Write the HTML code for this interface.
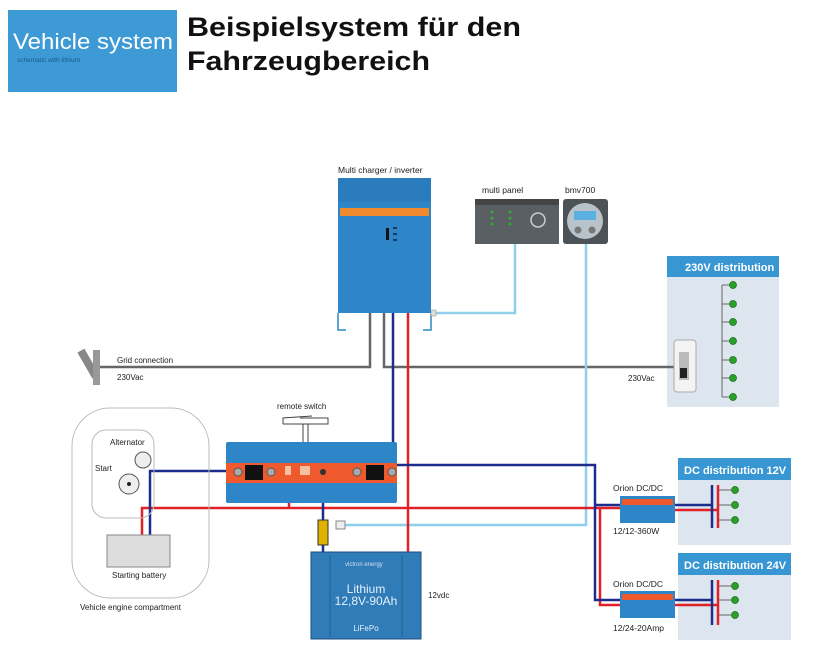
<!DOCTYPE html>
<html><head><meta charset="utf-8"><style>
body{margin:0;background:#fff;}
svg{display:block;font-family:"Liberation Sans",sans-serif;}
</style></head><body>
<svg width="813" height="664" viewBox="0 0 813 664" xmlns="http://www.w3.org/2000/svg">
<rect width="813" height="664" fill="#fff"/>
<!-- header -->
<rect x="8" y="10" width="169" height="82" fill="#3d9ad5"/>
<text x="13" y="49" font-size="22" fill="#fff" textLength="160" lengthAdjust="spacingAndGlyphs">Vehicle system</text>
<text x="17" y="62" font-size="6.5" fill="#1d5b8a">schematic with lithium</text>
<text x="187" y="36" font-size="27" font-weight="bold" fill="#111" textLength="334" lengthAdjust="spacingAndGlyphs">Beispielsystem für den</text>
<text x="187" y="70" font-size="27" font-weight="bold" fill="#111" textLength="243" lengthAdjust="spacingAndGlyphs">Fahrzeugbereich</text>

<!-- panel backgrounds -->
<rect x="667" y="256" width="112" height="151" fill="#dde6ee"/>
<rect x="667" y="256" width="112" height="21" fill="#3896d3"/>
<text x="685" y="271" font-size="11" font-weight="bold" fill="#fff">230V distribution</text>
<rect x="678" y="458" width="113" height="87" fill="#dde6ee"/>
<rect x="678" y="458" width="113" height="22" fill="#3896d3"/>
<text x="684" y="474" font-size="11" font-weight="bold" fill="#fff">DC distribution 12V</text>
<rect x="678" y="553" width="113" height="87" fill="#dde6ee"/>
<rect x="678" y="553" width="113" height="22" fill="#3896d3"/>
<text x="684" y="569" font-size="11" font-weight="bold" fill="#fff">DC distribution 24V</text>

<!-- wires gray -->
<g fill="none" stroke="#666" stroke-width="2.5">
<polyline points="100,367 370,367 370,313"/>
<polyline points="384,313 384,367 680,367"/>
</g>
<!-- light blue -->
<g fill="none" stroke="#8fd0ee" stroke-width="2.5">
<polyline points="436,313 515,313 515,244"/>
<polyline points="586,244 586,525 345,525"/>
</g>
<!-- red -->
<g fill="none" stroke="#e02128" stroke-width="2.5">
<polyline points="408,313 408,552"/>
<polyline points="142,535 142,508 620,508"/>
<polyline points="600,508 600,605 620,605"/>
<polyline points="675,510 718,510"/>
<polyline points="675,605 718,605"/>
<line x1="718" y1="485" x2="718" y2="528"/>
<line x1="718" y1="580" x2="718" y2="625"/>
<line x1="289" y1="484" x2="289" y2="508"/>
</g>
<!-- blue -->
<g fill="none" stroke="#1d2d8c" stroke-width="2.5">
<polyline points="393,313 393,465"/>
<polyline points="150,535 150,471 237,471"/>
<polyline points="393,465 595,465 595,600 620,600"/>
<polyline points="595,505 620,505"/>
<polyline points="675,505 712,505"/>
<polyline points="675,600 712,600"/>
<line x1="712" y1="485" x2="712" y2="528"/>
<line x1="712" y1="580" x2="712" y2="625"/>
<polyline points="323,475 323,552"/>
</g>

<!-- inverter -->
<text x="338" y="173" font-size="8.5" fill="#222">Multi charger / inverter</text>
<rect x="338" y="178" width="93" height="135" fill="#2e86c8"/>
<rect x="338" y="178" width="93" height="24" fill="#2a7cbc"/>
<rect x="340" y="208" width="89" height="8" fill="#f08a2c"/>
<rect x="386" y="228" width="3" height="12" fill="#111"/>
<g fill="#123a6a"><rect x="393" y="227" width="4" height="2"/><rect x="393" y="233" width="4" height="2"/><rect x="393" y="239" width="4" height="2"/></g>
<path d="M338 313 V330 H346 M431 313 V330 H423" fill="none" stroke="#2e86c8" stroke-width="1.5"/>
<rect x="431" y="310" width="5" height="6" fill="#ddd" stroke="#888" stroke-width="0.5"/>

<!-- multi panel / bmv -->
<text x="482" y="193" font-size="8.5" fill="#222">multi panel</text>
<text x="565" y="193" font-size="8.5" fill="#222">bmv700</text>
<rect x="475" y="199" width="84" height="45" fill="#5a5f63"/>
<rect x="475" y="199" width="84" height="6" fill="#444"/>
<circle cx="538" cy="220" r="7" fill="none" stroke="#ccc" stroke-width="1.5"/>
<g fill="#3a3"><circle cx="492" cy="212" r="1.5"/><circle cx="492" cy="218" r="1.5"/><circle cx="492" cy="224" r="1.5"/><circle cx="510" cy="212" r="1.5"/><circle cx="510" cy="218" r="1.5"/><circle cx="510" cy="224" r="1.5"/></g>
<rect x="563" y="199" width="45" height="45" rx="3" fill="#4d5256"/>
<circle cx="585" cy="221" r="18" fill="#b8c3c9"/>
<rect x="574" y="211" width="22" height="9" fill="#5ab0e0"/>
<circle cx="578" cy="230" r="3.5" fill="#777"/><circle cx="592" cy="230" r="3.5" fill="#777"/>

<!-- 230V distribution details -->
<path d="M722 285 V397" stroke="#666" stroke-width="1" fill="none"/>
<g stroke="#666" stroke-width="1"><line x1="722" y1="285" x2="733" y2="285"/><line x1="722" y1="304" x2="733" y2="304"/><line x1="722" y1="322" x2="733" y2="322"/><line x1="722" y1="341" x2="733" y2="341"/><line x1="722" y1="360" x2="733" y2="360"/><line x1="722" y1="378" x2="733" y2="378"/><line x1="722" y1="397" x2="733" y2="397"/></g>
<g fill="#2aa02a" stroke="#176e17" stroke-width="0.7"><circle cx="733" cy="285" r="3.5"/><circle cx="733" cy="304" r="3.5"/><circle cx="733" cy="322" r="3.5"/><circle cx="733" cy="341" r="3.5"/><circle cx="733" cy="360" r="3.5"/><circle cx="733" cy="378" r="3.5"/><circle cx="733" cy="397" r="3.5"/></g>
<rect x="674" y="340" width="22" height="52" rx="3" fill="#f3f3f3" stroke="#aaa"/>
<rect x="679" y="352" width="10" height="28" fill="#bbb"/><rect x="680" y="368" width="7" height="10" fill="#222"/>
<text x="628" y="381" font-size="8" fill="#222">230Vac</text>

<!-- grid plug -->
<g transform="rotate(60 88 365)"><rect x="72" y="360" width="30" height="8" fill="#888"/></g>
<rect x="93" y="350" width="7" height="35" fill="#999"/>
<text x="117" y="363" font-size="8" fill="#222">Grid connection</text>
<text x="117" y="380" font-size="8" fill="#222">230Vac</text>

<!-- engine compartment -->
<rect x="72" y="408" width="137" height="190" rx="38" fill="none" stroke="#bbb"/>
<rect x="92" y="430" width="62" height="88" rx="14" fill="none" stroke="#bbb"/>
<text x="110" y="445" font-size="8" fill="#222">Alternator</text>
<text x="95" y="471" font-size="8" fill="#222">Start</text>
<circle cx="143" cy="460" r="8" fill="#eee" stroke="#555"/>
<circle cx="129" cy="484" r="10" fill="#eee" stroke="#555"/><circle cx="129" cy="484" r="2" fill="#222"/>
<rect x="107" y="535" width="63" height="32" fill="#ddd" stroke="#888"/>
<text x="112" y="578" font-size="8" fill="#222">Starting battery</text>
<text x="80" y="610" font-size="8" fill="#222">Vehicle engine compartment</text>

<!-- remote switch & cyrix -->
<text x="277" y="409" font-size="8" fill="#222">remote switch</text>
<path d="M283 424 V418 L312 416 M300 418 H328 V424 H283" fill="none" stroke="#444"/>
<path d="M303 424 V468 M308 424 V468" stroke="#444" fill="none"/>
<rect x="226" y="442" width="171" height="61" rx="2" fill="#2e86c8"/>
<rect x="226" y="463" width="171" height="20" fill="#ee5a2e"/>
<rect x="245" y="465" width="18" height="15" fill="#111"/>
<rect x="366" y="465" width="18" height="15" fill="#111"/>
<circle cx="238" cy="472" r="4" fill="#aaa" stroke="#555"/><circle cx="271" cy="472" r="4" fill="#aaa" stroke="#555"/>
<circle cx="357" cy="472" r="4" fill="#aaa" stroke="#555"/><circle cx="392" cy="472" r="4" fill="#aaa" stroke="#555"/>
<rect x="285" y="466" width="6" height="9" fill="#f6c0a0"/><rect x="300" y="466" width="10" height="9" fill="#f6c0a0"/>
<circle cx="323" cy="472" r="3" fill="#333"/>

<!-- lithium battery -->
<rect x="318" y="520" width="10" height="25" fill="#e0b200" stroke="#333"/>
<rect x="336" y="521" width="9" height="8" fill="#eee" stroke="#888"/>
<rect x="311" y="552" width="110" height="87" fill="#2f7cb8" stroke="#1c4d7d"/>
<line x1="330" y1="555" x2="330" y2="637" stroke="#255f90"/><line x1="402" y1="555" x2="402" y2="637" stroke="#255f90"/>
<text x="345" y="566" font-size="6" fill="#dde">victron energy</text>
<text x="366" y="593" font-size="12" fill="#e6f0fa" text-anchor="middle">Lithium</text>
<text x="366" y="605" font-size="12" fill="#e6f0fa" text-anchor="middle">12,8V-90Ah</text>
<text x="366" y="631" font-size="8" fill="#e6f0fa" text-anchor="middle">LiFePo</text>
<text x="428" y="598" font-size="8" fill="#222">12vdc</text>

<!-- DC 12V details -->
<g fill="#2aa02a" stroke="#176e17" stroke-width="0.7"><circle cx="735" cy="490" r="3.5"/><circle cx="735" cy="505" r="3.5"/><circle cx="735" cy="520" r="3.5"/></g>
<g stroke="#666"><line x1="719" y1="490" x2="732" y2="490"/><line x1="719" y1="505" x2="732" y2="505"/><line x1="719" y1="520" x2="732" y2="520"/></g>
<text x="613" y="491" font-size="8.5" fill="#222">Orion DC/DC</text>
<rect x="620" y="496" width="55" height="27" fill="#2e86c8"/><rect x="622" y="499" width="51" height="6" fill="#ee5a2e"/>
<text x="613" y="534" font-size="8.5" fill="#222">12/12-360W</text>

<!-- DC 24V details -->
<g fill="#2aa02a" stroke="#176e17" stroke-width="0.7"><circle cx="735" cy="586" r="3.5"/><circle cx="735" cy="600" r="3.5"/><circle cx="735" cy="615" r="3.5"/></g>
<g stroke="#666"><line x1="719" y1="586" x2="732" y2="586"/><line x1="719" y1="600" x2="732" y2="600"/><line x1="719" y1="615" x2="732" y2="615"/></g>
<text x="613" y="587" font-size="8.5" fill="#222">Orion DC/DC</text>
<rect x="620" y="591" width="55" height="27" fill="#2e86c8"/><rect x="622" y="594" width="51" height="6" fill="#ee5a2e"/>
<text x="613" y="631" font-size="8.5" fill="#222">12/24-20Amp</text>
</svg>
</body></html>
